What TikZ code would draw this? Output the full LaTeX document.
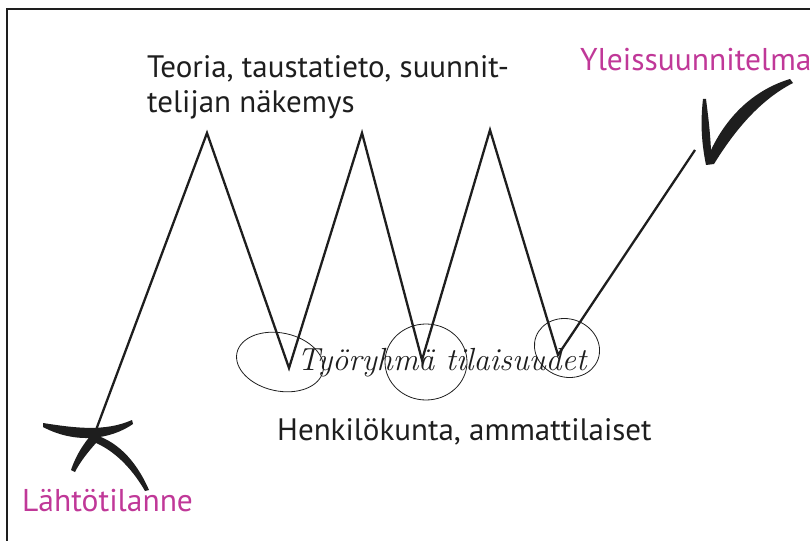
\documentclass[tikz,border=0pt]{standalone}
\usepackage{fontspec}
\setmainfont{PT Sans}
\usepackage{xcolor}
\definecolor{accent}{RGB}{192,56,152}
\definecolor{ink}{RGB}{30,30,30}
\usetikzlibrary{calc}
\tikzset{
  label/.style={font=\fontsize{31}{35.5}\selectfont,inner sep=0pt,align=left,text=ink},
  goal/.style={font=\fontsize{31.5}{34}\selectfont,inner sep=0pt,text=accent},
  script/.style={font=\fontspec{Latin Modern Roman}\itshape\fontsize{32}{34}\selectfont,inner sep=0pt,text=ink},
  zig/.style={line width=2.3pt,draw=ink},
  loop/.style={line width=0.8pt,draw=ink},
}

\begin{document}
\begin{tikzpicture}[x=1pt,y=-1pt]
\useasboundingbox (0,0) rectangle (810,540);
\draw[line width=2pt,draw=ink] (7,560) |- (830,9);
% path points
\coordinate (start) at (93,438);
\coordinate (peak1) at (207,133);
\coordinate (valley1) at (289,368);
\coordinate (peak2) at (362,133);
\coordinate (valley2) at (422,360);
\coordinate (peak3) at (490,130);
\coordinate (valley3) at (558,355);
\coordinate (finish) at (695,150);
\draw[zig,line join=miter] (start) -- (peak1) -- (valley1) -- (peak2) -- (valley2)
  -- (peak3) -- (valley3) -- (finish);
% circles round the workshops
\draw[loop,rotate around={-12:(280,362)}] (280,362) ellipse (44 and 29);
\draw[loop] (426,362) ellipse (41 and 38);
\draw[loop,rotate around={-20:(567,348)}] (567,348) ellipse (33 and 29);
% cross at the start
\fill[ink] (43,423) .. controls (75,428) and (105,432) .. (132,420)
  -- (133,424) .. controls (110,440) and (75,444) .. (43,427) -- cycle;
\fill[ink] (71,470) .. controls (76,455) and (84,443) .. (92,434)
  .. controls (115,440) and (135,458) .. (149,490)
  -- (145,491) .. controls (130,465) and (112,450) .. (96,443)
  .. controls (88,452) and (80,462) .. (75,472) -- cycle;
% tick at the end
\fill[ink] (703,99) .. controls (700,125) and (702,145) .. (706,165)
  -- (714,164) .. controls (735,130) and (760,100) .. (793,83)
  -- (790,79) .. controls (760,88) and (730,110) .. (711,150)
  .. controls (710,130) and (708,115) .. (706,99) -- cycle;
% texts
\node[label,anchor=base west] (theory) at (147,113)
  {Teoria, taustatieto, suunnit-\\telijan näkemys};
\node[goal,anchor=base west] (planlbl) at (580,71) {Yleissuunnitelma};
\node[goal,anchor=base west] (startlbl) at (22,511) {Lähtötilanne};
\node[script,anchor=base west] (workshops) at (297,370) {Työryhmä tilaisuudet};
\node[label,anchor=base west] (staff) at (277,440) {Henkilökunta, ammattilaiset};
\end{tikzpicture}
\end{document}
